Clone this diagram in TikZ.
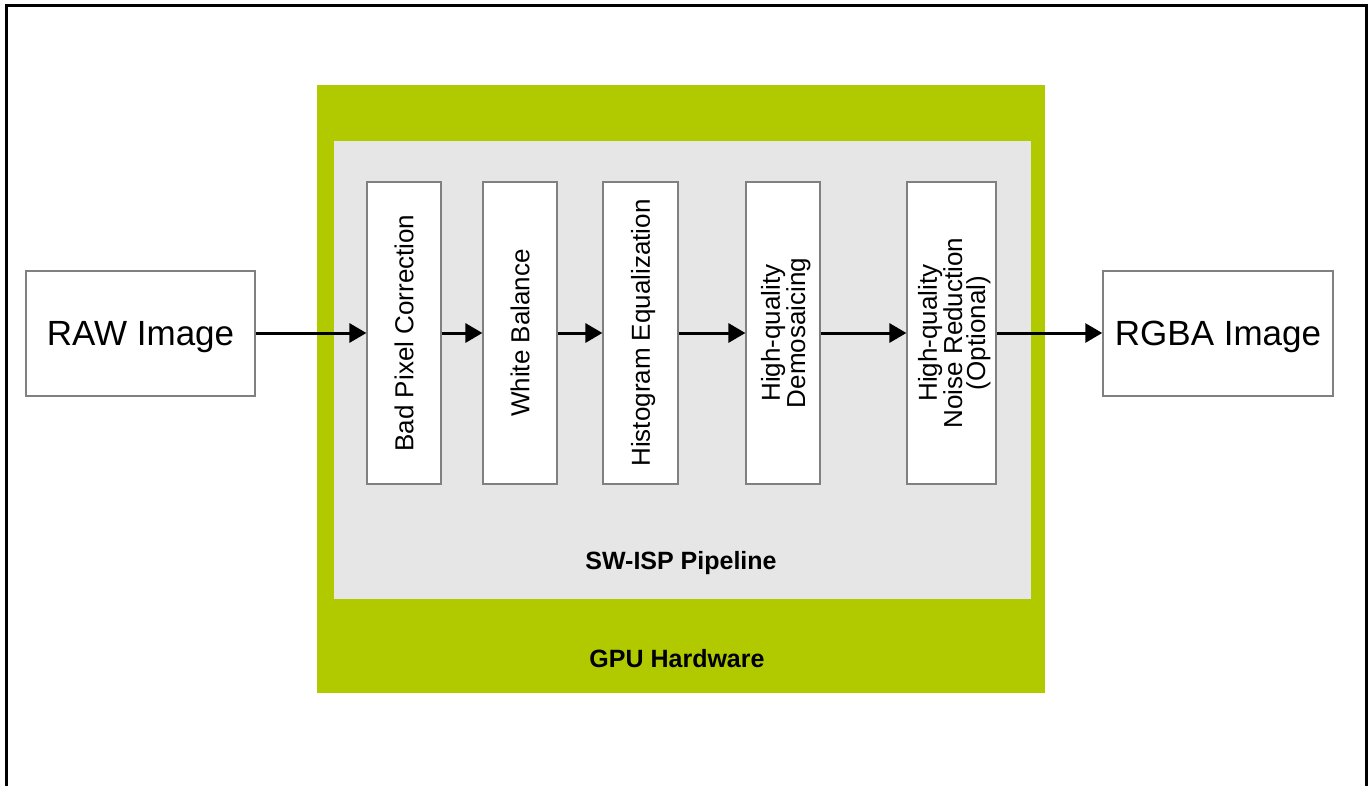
\documentclass[tikz,border=0pt]{standalone}
\usepackage{fontspec}
\setmainfont{Liberation Sans}
\usetikzlibrary{arrows.meta}
\definecolor{hwgreen}{RGB}{177,202,0}
\definecolor{swgray}{RGB}{230,230,230}
\definecolor{boxline}{RGB}{128,128,128}
\begin{document}
\begin{tikzpicture}[x=1bp,y=-1bp,
  stagebox/.style={draw=boxline, line width=1.2bp, fill=white, minimum height=302bp, inner sep=0pt},
  stagetext/.style={rotate=90, align=center, inner sep=0pt, text depth=0pt, font=\fontsize{26bp}{23bp}\selectfont},
  iobox/.style={draw=boxline, line width=1.5bp, fill=white, minimum width=230bp, minimum height=125bp, inner sep=0pt, text depth=0pt, font=\fontsize{35bp}{40bp}\selectfont},
  flow/.style={line width=3bp, -{Triangle[length=17bp,width=19bp]}},
  layerlabel/.style={inner sep=0pt, text depth=0pt, font=\fontsize{25bp}{28bp}\selectfont\bfseries}]
\useasboundingbox (0,0) rectangle (1369,786);
% outer frame (open at the bottom)
\draw[line width=3bp] (6,786) -- (6,6) -- (1366,6) -- (1366,786);
% layers
\fill[hwgreen] (317,85) rectangle (1045,693);
\fill[swgray] (334,141) rectangle (1031,599);
\node[layerlabel] (sw) at (681,560) {SW-ISP Pipeline};
\node[layerlabel] (gpu) at (677,658) {GPU Hardware};
% input / output
\node[iobox, minimum width=229bp] (raw) at (140.5,333.5) {RAW Image};
\node[iobox] (rgba) at (1218,333.5) {RGBA Image};
% stages
\node[stagebox, minimum width=74bp] (bpc) at (404,333) {};
\node[stagetext] (bpct) at (bpc.center) {Bad Pixel Correction};
\node[stagebox, minimum width=74bp] (wb) at (520,333) {};
\node[stagetext] (wbt) at (wb.center) {White Balance};
\node[stagebox, minimum width=75bp] (he) at (640.5,333) {};
\node[stagetext] (het) at (he.center) {Histogram Equalization};
\node[stagebox, minimum width=74bp] (dm) at (783,333) {};
\node[stagetext] (dmt) at (dm.center) {High-quality\\Demosaicing};
\node[stagebox, minimum width=89bp] (nr) at (951.5,333) {};
\node[stagetext] (nrt) at (nr.center) {High-quality\\Noise Reduction\\(Optional)};
% connectors
\draw[flow] (raw.east |- bpc.west) -- (bpc.west);
\draw[flow] (bpc.east) -- (wb.west);
\draw[flow] (wb.east) -- (he.west);
\draw[flow] (he.east) -- (dm.west);
\draw[flow] (dm.east) -- (nr.west);
\draw[flow] (nr.east) -- (rgba.west |- nr.east);
\end{tikzpicture}
\end{document}
